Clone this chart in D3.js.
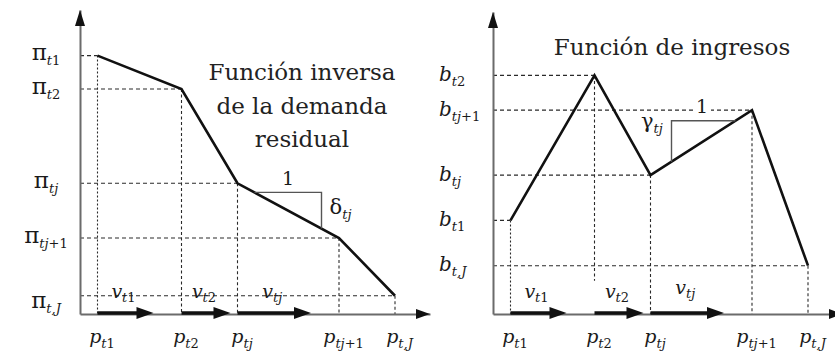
<!DOCTYPE html>
<html>
<head>
<meta charset="utf-8">
<script src="https://cdn.jsdelivr.net/npm/d3@7"></script>
<style>
  html, body { margin: 0; padding: 0; background: #fff; }
  svg { display: block; }
</style>
</head>
<body>
<svg id="chart" width="835" height="358"></svg>
<script>
// Breakpoints of the piecewise-linear residual demand and revenue curves
const pKeys    = ["t1", "t2", "tj", "tj+1", "t,J"];   // subscripts of p (quantities)
const pValues  = [5, 29, 45, 74, 90];                 // quantity breakpoints
const piValues = [85, 74, 43, 25, 6];                 // inverse residual demand (prices)
const bValues  = [31, 79, 46, 67.5, 16];              // revenue at each breakpoint
const vKeys    = ["t1", "t2", "tj"];                  // block widths v
const vEnds    = [21, 43, 66];                        // where each v arrow ends
const rightGuideFloor = [0, 11, 0, 0, 0];             // lower end of the right panel's vertical guides

// Slope markers: delta on the demand segment, gamma on the revenue segment
const deltaMark = { p: 69, level: 40, seg: 2 };
const gammaMark = { p: 51, level: 64, seg: 2 };

const titleLeft  = ["Función inversa", "de la demanda", "residual"];
const titleRight = "Función de ingresos";

const svg = d3.select("#chart");
const FONT = "DejaVu Serif";
const AXIS = "#6b6b6b", GUIDE = "#2a2a2a", INK = "#111";

function arrowHead(g, x, y, dir, len, half) {
  // dir: "up" or "right"; (x,y) is the tip
  const pts = dir === "up"
    ? [[x, y], [x - half, y + len], [x + half, y + len]]
    : [[x, y], [x - len, y - half], [x - len, y + half]];
  g.append("path").attr("d", d3.line()(pts) + "Z").attr("fill", INK);
}

function mathLabel(sel, base, sub, opts) {
  const o = Object.assign({ size: 19, baseSize: null, subSize: 13, shift: 5, baseItalic: true }, opts || {});
  sel.text(null)
    .attr("font-family", FONT).attr("fill", "#1a1a1a").attr("font-size", o.size);
  sel.append("tspan").attr("font-style", o.baseItalic ? "italic" : "normal")
    .attr("font-size", o.baseSize || o.size).text(base);
  const m = sub.match(/^[A-Za-z,]+/);
  const it = m ? m[0] : "";
  const rest = sub.slice(it.length);
  sel.append("tspan").attr("font-size", o.subSize).attr("font-style", "italic")
    .attr("dy", o.shift).text(it);
  if (rest) sel.append("tspan").attr("font-size", o.subSize).attr("font-style", "normal").text(rest);
}

function panel(cfg) {
  const g = svg.append("g");
  const x = d3.scaleLinear().domain([0, 100]).range(cfg.xRange);
  const y = d3.scaleLinear().domain([0, 100]).range(cfg.yRange);
  const x0 = x(0), y0 = y(0);

  // dashed guides
  const guides = g.append("g").attr("fill", "none").attr("stroke", GUIDE).attr("stroke-width", 1.1);
  cfg.values.forEach((v, i) => {
    guides.append("line")
      .attr("x1", x0).attr("x2", x(pValues[i]))
      .attr("y1", y(v)).attr("y2", y(v))
      .attr("stroke-dasharray", "4,3");
    guides.append("line")
      .attr("x1", x(pValues[i])).attr("x2", x(pValues[i]))
      .attr("y1", y(v)).attr("y2", y(cfg.floor ? cfg.floor[i] : 0))
      .attr("stroke-dasharray", i === 0 ? "2,2" : "3,2.5");
  });

  // axes
  const xAxis = d3.axisBottom(x).tickValues(pValues).tickSize(0).tickSizeOuter(0).tickFormat(() => "");
  const yAxis = d3.axisLeft(y).tickValues(cfg.values).tickSize(0).tickSizeOuter(0).tickFormat(() => "");
  const gx = g.append("g").attr("transform", `translate(0,${y0})`).call(xAxis);
  const gy = g.append("g").attr("transform", `translate(${x0},0)`).call(yAxis);
  [gx, gy].forEach(a => a.select(".domain").attr("stroke", AXIS).attr("stroke-width", 2));

  gx.selectAll(".tick text").each(function (d, i) {
    const t = d3.select(this).attr("y", 29).attr("dy", 0).attr("text-anchor", "middle")
      .attr("dx", 4);
    mathLabel(t, "p", pKeys[i]);
  });
  gy.selectAll(".tick text").each(function (d, i) {
    const t = d3.select(this).attr("x", cfg.yLabelX - x0).attr("text-anchor", cfg.yAnchor)
      .attr("dy", cfg.yLabelDy(i));
    mathLabel(t, cfg.sym, pKeys[i], { baseItalic: cfg.symItalic, baseSize: cfg.symSize });
  });

  arrowHead(g, x0, y(100), "up", 16, 5);
  arrowHead(g, x(100), y0, "right", 14, 5);

  // piecewise-linear curve
  const pts = pValues.map((p, i) => [x(p), y(cfg.values[i])]);
  g.append("path").attr("d", d3.line()(pts)).attr("fill", "none")
    .attr("stroke", INK).attr("stroke-width", 2.6).attr("stroke-linejoin", "miter");

  // block-width vectors along the quantity axis
  vKeys.forEach((k, i) => {
    const xs = x(pValues[i]), xe = x(vEnds[i]);
    g.append("line").attr("x1", xs).attr("x2", xe - 12).attr("y1", y0 - 1).attr("y2", y0 - 1)
      .attr("stroke", INK).attr("stroke-width", 3.5);
    arrowHead(g, xe, y0 - 1, "right", 17, 6);
    const t = g.append("text").attr("x", (xs + xe) / 2 - 2).attr("y", y0 - 16 - (i === 2 ? cfg.vLift : 0))
      .attr("text-anchor", "middle");
    mathLabel(t, "v", k, { size: 19, subSize: 13, shift: 4 });
  });

  // slope marker triangle
  const m = cfg.mark;
  const a = pts[m.seg], b = pts[m.seg + 1];
  const lineY = px => a[1] + (b[1] - a[1]) * (px - a[0]) / (b[0] - a[0]);
  const lineX = py => a[0] + (b[0] - a[0]) * (py - a[1]) / (b[1] - a[1]);
  const mx = x(m.p), my = y(m.level);
  const tri = [[lineX(my), my], [mx, my], [mx, lineY(mx)]];
  g.append("path").attr("d", d3.line()(tri)).attr("fill", "none")
    .attr("stroke", "#555").attr("stroke-width", 1.4);

  return { g, x, y, mx, my, pts };
}

// ---------- left: inverse residual demand ----------
const L = panel({
  xRange: [80, 430], yRange: [314, 10], values: piValues, sym: "π", symItalic: false, symSize: 23,
  yLabelX: 46, yAnchor: "middle",
  yLabelDy: i => (i === pValues.length - 1 ? 12 : 4),
  mark: deltaMark, vLift: 0
});
L.g.append("text").attr("x", 288).attr("y", 185).attr("text-anchor", "middle")
  .attr("font-family", FONT).attr("font-size", 19).attr("fill", "#1a1a1a").text("1");
mathLabel(L.g.append("text").attr("x", L.mx + 8).attr("y", 214), "δ", "tj", { baseItalic: false, baseSize: 21 });
L.g.append("g").attr("font-family", FONT).attr("font-size", 23).attr("fill", "#222")
  .attr("text-anchor", "middle")
  .selectAll("text").data(titleLeft).join("text")
  .attr("x", 302).attr("y", (d, i) => 80 + i * 33.5).text(d => d);

// ---------- right: revenue function ----------
const R = panel({
  xRange: [493, 843], yRange: [314, 12], values: bValues, sym: "b", symItalic: true, symSize: 20,
  yLabelX: 439, yAnchor: "start",
  yLabelDy: () => 5, floor: rightGuideFloor,
  mark: gammaMark, vLift: 4
});
{
  const oneX = 702, oneY = R.y(bValues[3]);
  R.g.append("rect").attr("x", oneX - 9).attr("y", oneY - 9).attr("width", 18).attr("height", 14)
    .attr("fill", "#fff");
  R.g.append("text").attr("x", oneX).attr("y", oneY + 3).attr("text-anchor", "middle")
    .attr("font-family", FONT).attr("font-size", 19).attr("fill", "#1a1a1a").text("1");
}
mathLabel(R.g.append("text").attr("x", 641).attr("y", 128), "γ", "tj", { baseItalic: false, baseSize: 21 });
R.g.append("text").attr("x", 672).attr("y", 55).attr("text-anchor", "middle")
  .attr("font-family", FONT).attr("font-size", 23).attr("fill", "#222").text(titleRight);
</script>
</body>
</html>
